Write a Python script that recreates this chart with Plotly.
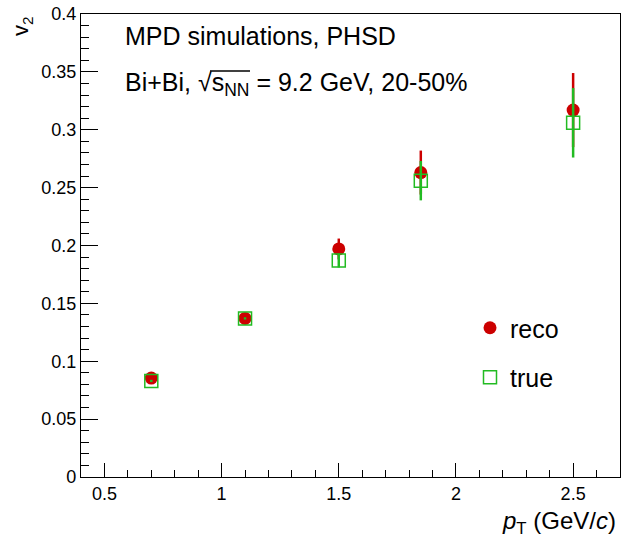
import plotly.graph_objects as go

pt = [0.7, 1.1, 1.5, 1.85, 2.5]
v2_reco = [0.0855, 0.137, 0.197, 0.263, 0.317]
v2_reco_err = [0.001, 0.001, 0.009, 0.019, 0.032]
v2_true = [0.083, 0.137, 0.187, 0.256, 0.306]
v2_true_err = [0.001, 0.001, 0.006, 0.017, 0.030]

RED = "#cc0000"
GREEN = "#22bb22"
FONT = "Liberation Sans"

fig = go.Figure()
fig.add_trace(go.Scatter(
    x=pt, y=v2_reco, mode="markers", name="reco",
    marker=dict(symbol="circle", size=13, color=RED),
    error_y=dict(type="data", array=v2_reco_err, color=RED, thickness=2.5, width=0),
    legendgroup="a",
))
fig.add_trace(go.Scatter(
    x=pt, y=v2_true, mode="markers", name="true",
    marker=dict(symbol="square-open", size=13, color=GREEN, line=dict(width=1.5, color=GREEN)),
    error_y=dict(type="data", array=v2_true_err, color=GREEN, thickness=2.5, width=0),
    legendgroup="b",
))

axis_common = dict(
    showline=True, linecolor="black", linewidth=1.2, mirror=True,
    ticks="inside", tickcolor="black", showgrid=False, zeroline=False,
    tickfont=dict(family=FONT, size=18, color="black"),
)

fig.update_xaxes(
    range=[0.4, 2.7], tickvals=[0.5, 1, 1.5, 2, 2.5], ticktext=["0.5", "1", "1.5", "2", "2.5"],
    ticklen=14, tickwidth=1,
    minor=dict(ticks="inside", ticklen=7, dtick=0.1, tick0=0.5, tickcolor="black"),
    **axis_common,
)
fig.update_yaxes(
    range=[0, 0.4], tickvals=[0, 0.05, 0.1, 0.15, 0.2, 0.25, 0.3, 0.35, 0.4],
    ticktext=["0", "0.05", "0.1", "0.15", "0.2", "0.25", "0.3", "0.35", "0.4"],
    ticklen=17, tickwidth=1,
    minor=dict(ticks="inside", ticklen=8, dtick=0.01, tick0=0, tickcolor="black"),
    **axis_common,
)

W, H = 624, 539
L, R, T, B = 81, 4, 14, 62
pw, ph = W - L - R, H - T - B

def px(x):
    return (x - L) / pw

def py(y):
    return (H - B - y) / ph

fig.update_layout(
    width=W, height=H,
    margin=dict(l=L, r=R, t=T, b=B),
    paper_bgcolor="white", plot_bgcolor="white",
    font=dict(family=FONT, color="black"),
    legend=dict(
        x=px(470), y=py(305), xanchor="left", yanchor="top",
        font=dict(family=FONT, size=25, color="black"),
        bgcolor="rgba(0,0,0,0)", tracegroupgap=14,
        itemwidth=30,
    ),
    annotations=[
        dict(text="MPD simulations, PHSD", x=px(123), y=py(36), xref="paper", yref="paper",
             xanchor="left", yanchor="middle", showarrow=False,
             font=dict(family=FONT, size=25, color="black")),
        dict(text="Bi+Bi, √s<sub>NN</sub> = 9.2 GeV, 20-50%", x=px(123), y=py(84), xref="paper", yref="paper",
             xanchor="left", yanchor="middle", showarrow=False,
             font=dict(family=FONT, size=25, color="black")),
        dict(text="v<sub>2</sub>", x=px(22), y=py(14), xref="paper", yref="paper",
             xanchor="center", yanchor="top", textangle=-90, showarrow=False,
             font=dict(family=FONT, size=22, color="black")),
        dict(text="<i>p</i><sub>T</sub> (GeV/<i>c</i>)", x=px(618), y=py(522), xref="paper", yref="paper",
             xanchor="right", yanchor="middle", showarrow=False,
             font=dict(family=FONT, size=24, color="black")),
    ],
    shapes=[
        dict(type="line", xref="paper", yref="paper",
             x0=px(210), x1=px(250), y0=py(71), y1=py(71),
             line=dict(color="black", width=1.5)),
    ],
)

fig.write_html("out.html")
